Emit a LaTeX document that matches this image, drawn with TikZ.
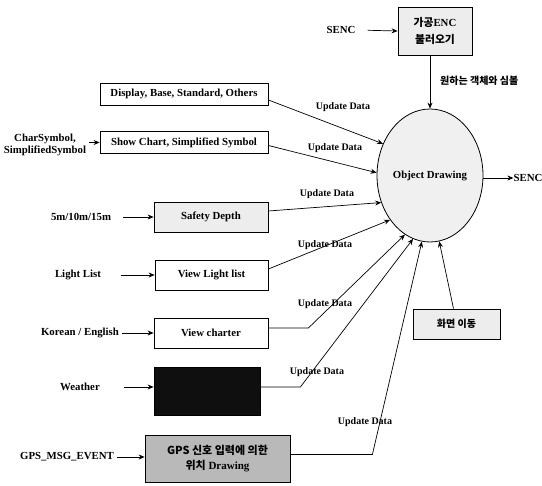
\documentclass[tikz,border=0pt]{standalone}
\usepackage{fontspec}
\setmainfont{Liberation Serif}
\newfontfamily\cjk{Noto Sans CJK KR}
\usetikzlibrary{arrows.meta,shapes.geometric,calc}

\begin{document}
\begin{tikzpicture}[x=1pt,y=-1pt,
  every node/.style={font=\fontsize{10.8}{12}\selectfont\bfseries},
  box/.style={draw, line width=0.8pt, inner sep=0pt, align=center},
  litebox/.style={box, fill=gray!14},
  flow/.style={-{Stealth[length=6pt,width=5pt]}, line width=0.7pt},
  lbl/.style={font=\fontsize{10}{11}\selectfont\bfseries, inner sep=0pt},
  src/.style={inner sep=0pt, align=center},
  kr/.style={font=\fontsize{10}{12}\selectfont\cjk\bfseries}]

\useasboundingbox (0,0) rectangle (542,486);

% central process
\node[ellipse, draw, line width=0.8pt, fill=gray!12, minimum width=106, minimum height=133, inner sep=0pt] (obj) at (430,175.5) {Object Drawing};

% ENC loader at the top
\node[litebox, minimum width=74, minimum height=48] (enc) at (435,31) {{\cjk 가공}ENC\\[5pt]{\cjk 불러오기}};
\node[src] (senc1) at (341,30) {SENC};
\draw[flow, shorten <=12pt] (senc1.east) -- (enc.west);
\draw[flow] (obj.north |- enc.south) -- (obj.north);
\node[src, kr, anchor=west] (want) at (440,81) {원하는 객체와 심볼};

% output
\node[src] (senc2) at (528,178) {SENC};
\draw[flow] (obj.east |- senc2) -- (senc2.west);

% option boxes
\node[box, minimum width=168, minimum height=22] (disp) at (184,94) {Display, Base, Standard, Others};
\node[box, minimum width=168, minimum height=22] (show) at (184,142.5) {Show Chart, Simplified Symbol};
\node[litebox, minimum width=114, minimum height=30] (safe) at (211,217) {Safety Depth};
\node[box, minimum width=113, minimum height=30] (light) at (211.5,275) {View Light list};
\node[box, minimum width=114, minimum height=30] (chart) at (211,333) {View charter};
\node[box, fill=gray!12!black, minimum width=106, minimum height=48] (wthr) at (207,391) {};
\node[box, fill=gray!55, minimum width=145, minimum height=47, font=\fontsize{11}{13}\selectfont\bfseries] (gps) at (217.5,458.5) {{\cjk GPS 신호 입력에 의한}\\[2pt]{\cjk 위치} Drawing};
\node[litebox, kr, minimum width=87, minimum height=30] (move) at (456.5,324) {화면 이동};

% inputs
\node[src] (charsym) at (45,145) {CharSymbol,\\SimplifiedSymbol};
\node[src] (depthin) at (81,217) {5m/10m/15m};
\node[src] (lightin) at (78,275) {Light List};
\node[src] (langin) at (80,333) {Korean / English};
\node[src] (wthrin) at (80,387) {Weather};
\node[src] (gpsin) at (67,457) {GPS\_MSG\_EVENT};

\draw[flow, shorten <=3pt] (charsym.east |- show) -- (show.west);
\draw[flow, shorten <=12pt] (depthin.east) -- (safe.west);
\draw[flow, shorten <=20pt] (lightin.east) -- (light.west);
\draw[flow, shorten <=3pt] (langin.east) -- (chart.west);
\draw[flow, shorten <=24pt] (wthrin.east) -- (wthrin.east -| wthr.west);
\draw[flow, shorten <=3pt] (gpsin.east) -- (gpsin.east -| gps.west);

% updates into the drawing process
\draw[flow] ($(disp.east)+(0,6)$) -- (obj.146);
\draw[flow] ($(show.east)+(0,3)$) -- (obj.177);
\draw[flow] ($(safe.east)+(0,-6)$) -- (obj.209);
\draw[flow] ($(light.east)+(0,-6)$) -- (obj.228);
\draw[flow] ($(chart.east)+(0,-5)$) -- ++(40,0) -- (obj.247);
\draw[flow] ($(wthr.east)+(0,-4)$) -- ++(40,0) -- (obj.255);
\draw[flow] ($(gps.east)+(0,-4)$) -- ++(82,0) -- (obj.263);
\draw[flow] ($(move.north)+(-3,0)$) -- (obj.278);

\node[lbl] (u1) at (343,107) {Update Data};
\node[lbl] (u2) at (335,148) {Update Data};
\node[lbl] (u3) at (327,194) {Update Data};
\node[lbl] (u4) at (325,245) {Update Data};
\node[lbl] (u5) at (325,304) {Update Data};
\node[lbl] (u6) at (317,372) {Update Data};
\node[lbl] (u7) at (365,422) {Update Data};
\end{tikzpicture}
\end{document}
